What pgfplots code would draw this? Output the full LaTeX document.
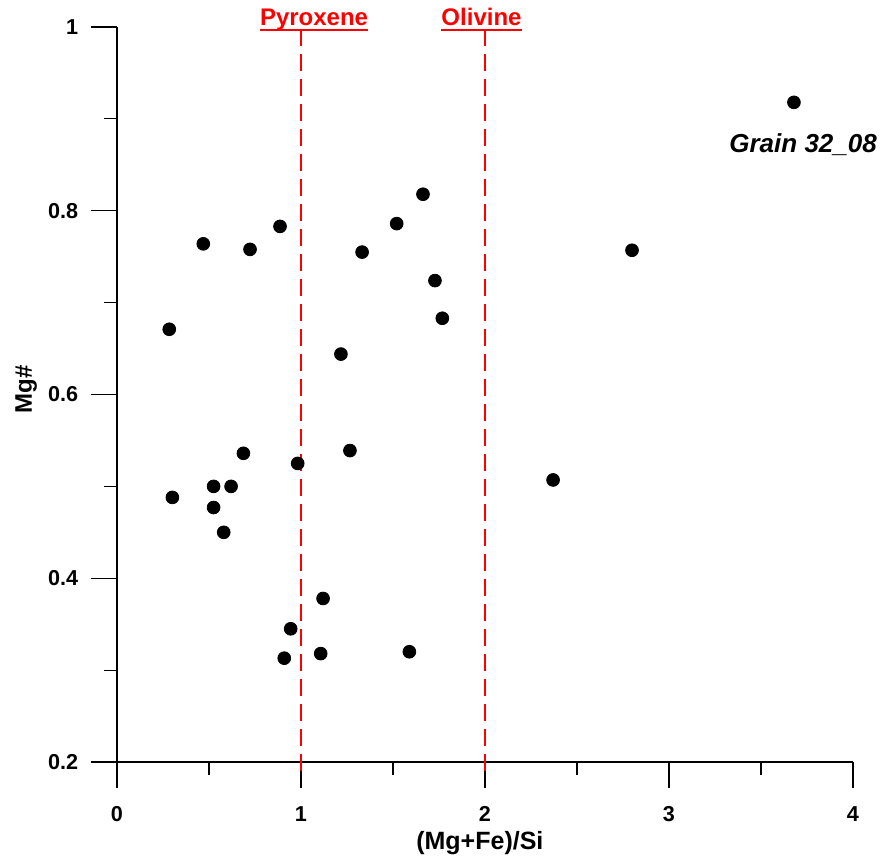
\documentclass[border=0pt]{standalone}
\usepackage{pgfplots}
\pgfplotsset{compat=1.18}
\usepackage{fontspec}
\setmainfont{Liberation Sans}
\newcommand{\redul}[1]{\setbox0\hbox{#1}\rlap{\raisebox{-2.8pt}{\color{red}\rule{\wd0}{1pt}}}\box0}
\begin{document}
\begin{tikzpicture}
\path[use as bounding box] (-58.5pt,-48.5pt) rectangle (383.5pt,381pt);
\begin{axis}[
  at={(0pt,0pt)}, anchor=south west,
  scale only axis, width=368pt, height=367.5pt,
  xmin=0, xmax=4, ymin=0.2, ymax=1,
  axis x line*=bottom, axis y line*=left,
  xtick={0,1,2,3,4}, minor xtick={0.5,1.5,2.5,3.5},
  ytick={0.2,0.4,0.6,0.8,1}, minor ytick={0.3,0.5,0.7,0.9},
  xticklabels={0,1,2,3,4},
  yticklabels={0.2,0.4,0.6,0.8,1},
  tick align=outside, major tick length=12.75pt, minor tick length=6.5pt,
  every tick/.style={black, line width=0.6pt},
  axis line style={black, line width=0.75pt},
  tick label style={font=\bfseries\fontsize{10.8}{12}\selectfont},
  /pgf/number format/assume math mode=true,
  xticklabel style={anchor=north, inner sep=0pt},
  xticklabel shift=9.5pt,
  yticklabel style={anchor=east, inner sep=0pt},
  yticklabel shift=6.5pt,
  xlabel={(Mg+Fe)/Si},
  ylabel={Mg\#},
  xlabel style={at={(axis description cs:0.493,-0.1197)}, anchor=base, font=\bfseries\fontsize{12.5}{14}\selectfont},
  ylabel style={at={(axis description cs:-0.1155,0.507)}, anchor=base, font=\bfseries\fontsize{12}{14}\selectfont},
  clip=false,
]
\addplot[red, line width=1.1pt, dash pattern=on 8.5pt off 4pt] coordinates {(1,0.19) (1,0.998)};
\addplot[red, line width=1.1pt, dash pattern=on 8.5pt off 4pt] coordinates {(2,0.19) (2,0.998)};
\addplot[only marks, mark=*, mark size=3.2pt, black] coordinates {
(0.469,0.764) (0.723,0.758) (0.886,0.783) (1.520,0.786) (1.332,0.755)
(1.728,0.724) (1.768,0.683) (0.284,0.671) (1.217,0.644) (1.663,0.818)
(0.687,0.536) (1.266,0.539) (0.982,0.525) (0.525,0.500) (0.620,0.500)
(0.301,0.488) (0.525,0.477) (0.580,0.450) (1.120,0.378) (0.944,0.345)
(1.107,0.318) (0.909,0.313) (1.589,0.320) (3.679,0.918) (2.799,0.757)
(2.370,0.507)
};
\node[anchor=base, inner sep=0pt, color=red, font=\bfseries\fontsize{12}{14}\selectfont] at (axis cs:1.071,1.002) {\redul{Pyroxene}};
\node[anchor=base, inner sep=0pt, color=red, font=\bfseries\fontsize{12}{14}\selectfont] at (axis cs:1.981,1.002) {\redul{Olivine}};
\node[anchor=base west, inner sep=0pt, font=\bfseries\itshape\fontsize{13}{15}\selectfont] at (axis cs:3.326,0.863) {Grain 32\_08};
\end{axis}
\end{tikzpicture}
\end{document}
